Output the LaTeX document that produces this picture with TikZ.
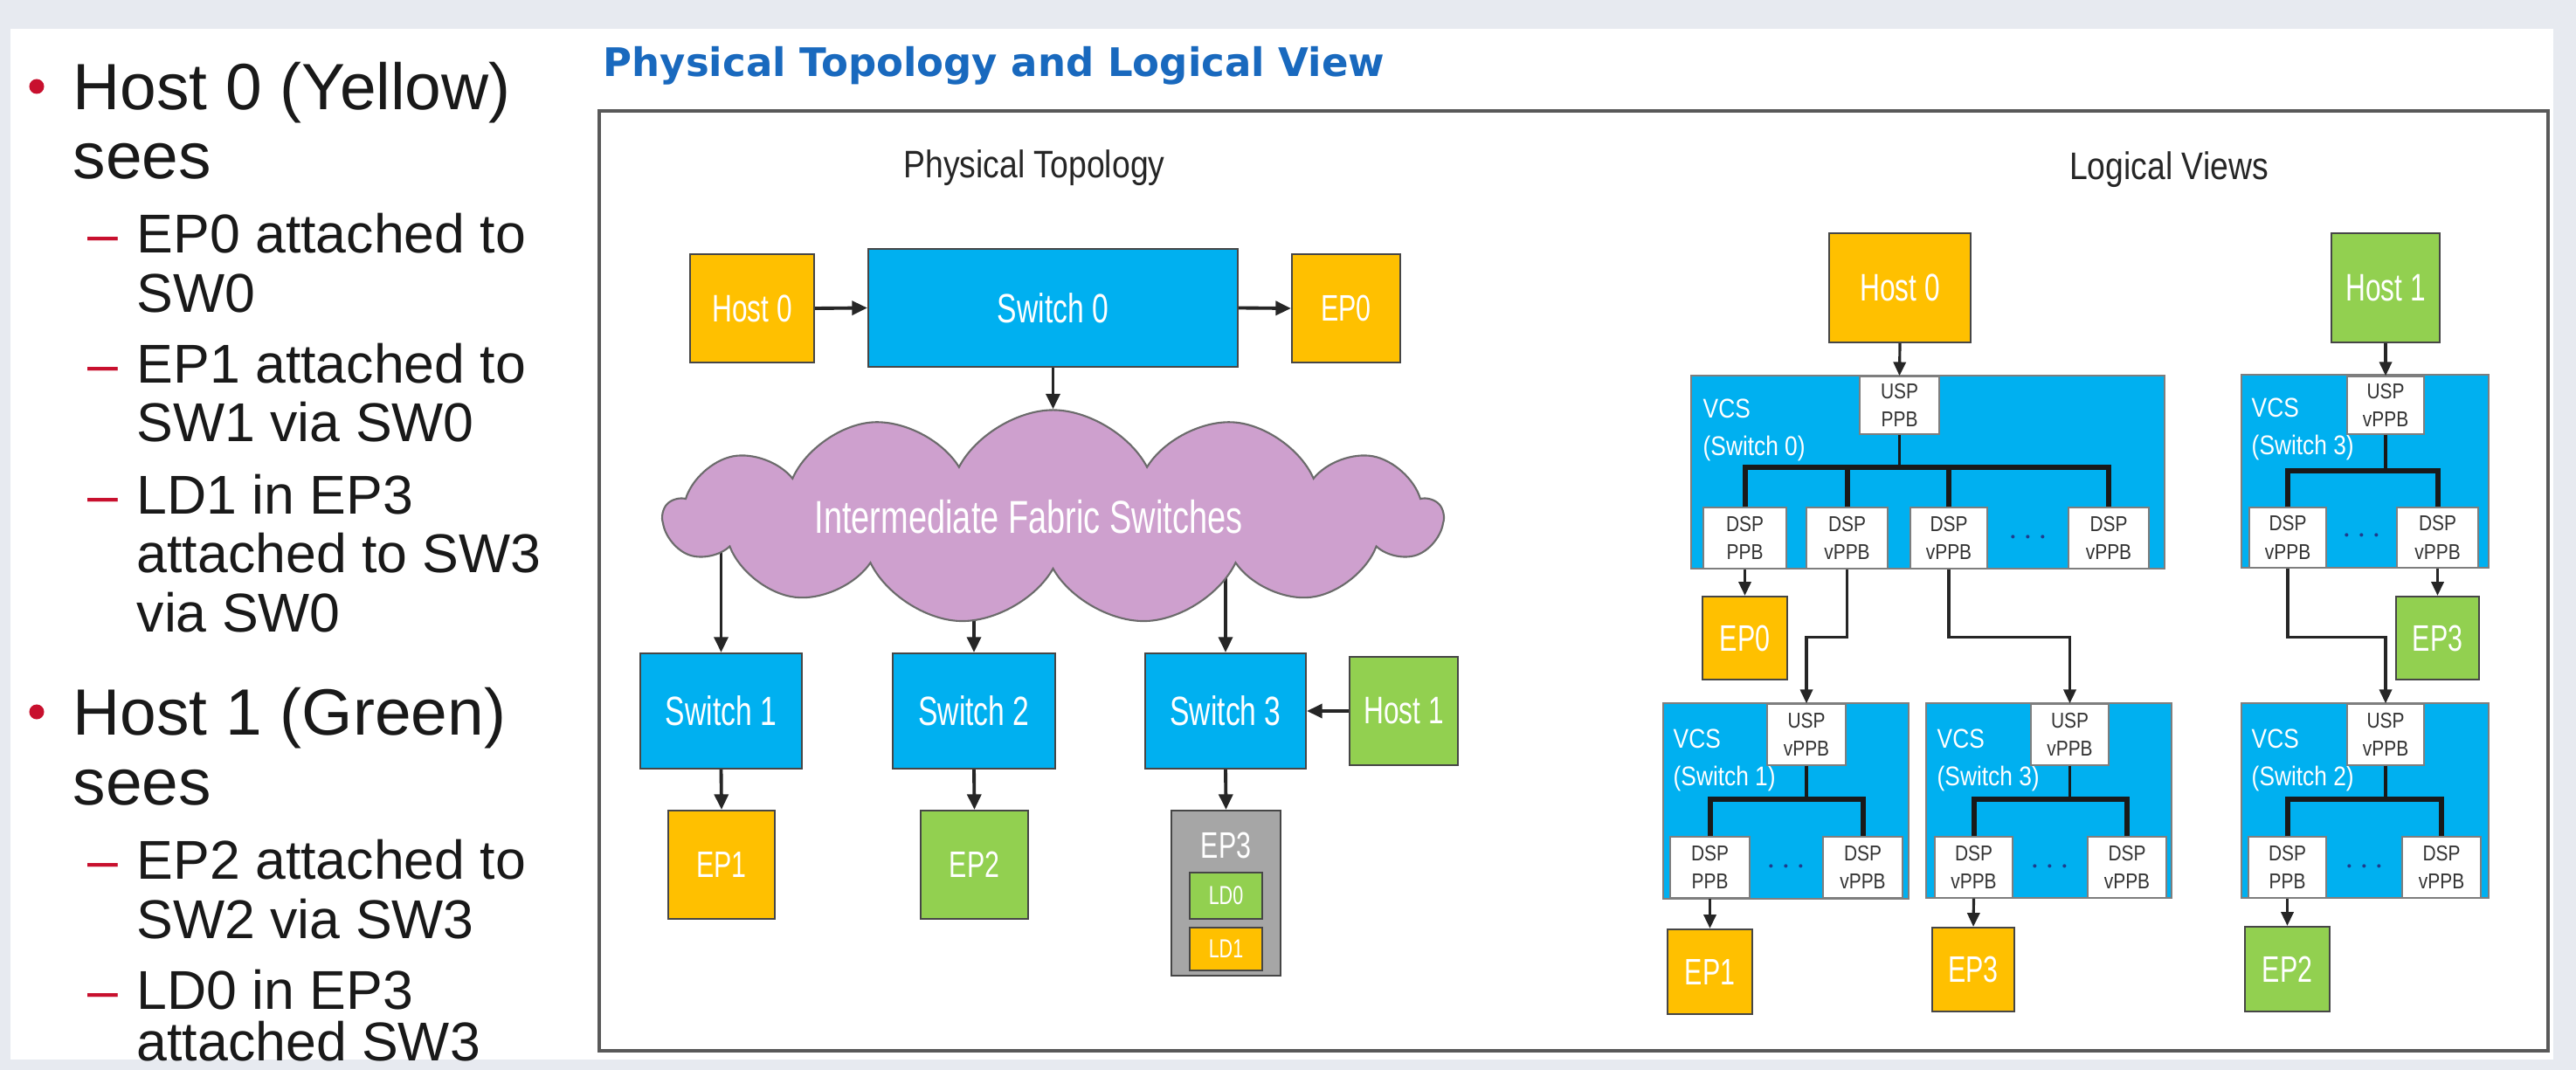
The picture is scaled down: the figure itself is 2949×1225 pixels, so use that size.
\documentclass[tikz,border=0pt]{standalone}
\usepackage{fontspec}
\setmainfont{Liberation Sans}
\newfontfamily\cond[FakeStretch=0.85]{Liberation Sans}
\newfontfamily\condb[FakeStretch=0.72]{Liberation Sans}
\newfontfamily\ttlfont{DejaVu Sans}
\usetikzlibrary{arrows.meta,shapes.symbols,fit}
\definecolor{cyel}{RGB}{255,192,0}
\definecolor{cblu}{RGB}{0,176,240}
\definecolor{cgrn}{RGB}{146,208,80}
\definecolor{cgry}{RGB}{166,166,166}
\definecolor{ccld}{RGB}{206,160,206}
\definecolor{cbrd}{RGB}{70,70,70}
\definecolor{cttl}{RGB}{25,105,190}
\definecolor{cred}{RGB}{200,16,46}
\definecolor{cbg}{RGB}{231,234,240}
\definecolor{cdots}{RGB}{30,60,140}
\tikzset{
 box/.style={draw=cbrd, line width=0.6pt, inner sep=0pt},
 ybox/.style={box, fill=cyel},
 gbox/.style={box, fill=cgrn},
 bbox/.style={box, fill=cblu},
 grbox/.style={box, fill=cgry},
 bt/.style={text=white, inner sep=0pt, font=\condb\fontsize{12.5}{14}\selectfont},
 bts/.style={bt, font=\condb\fontsize{13.3}{15}\selectfont},
 bte/.style={bt, font=\condb\fontsize{12}{14}\selectfont},
 btl/.style={bt, font=\condb\fontsize{8.5}{10}\selectfont},
 ldbox/.style={line width=0.5pt},
 vcsbox/.style={draw=cbrd!70, line width=0.5pt, fill=cblu, inner sep=0pt},
 pbox/.style={draw=cbrd!70, line width=0.4pt, fill=white, inner sep=0pt},
 ptx/.style={text=black!80, inner sep=0pt, align=center, font=\cond\fontsize{7}{9.2}\selectfont},
 vcslbl/.style={anchor=west, align=left, text=white, inner sep=0pt, font=\cond\fontsize{8.8}{12.2}\selectfont},
 arr/.style={draw=black!85, line width=1.1pt, -{Triangle[length=5pt,width=4.5pt]}},
 larr/.style={draw=black!85, line width=0.9pt, -{Triangle[length=4.5pt,width=4pt]}},
 bus/.style={draw=black!90, line width=1.7pt, line join=miter},
 stemln/.style={draw=black!90, line width=0.9pt},
 hdr/.style={font=\cond\fontsize{12.5}{15}\selectfont, text=black!85, inner sep=0pt},
 mtxt/.style={anchor=base west, inner sep=0pt, font=\fontsize{21.3}{24}\selectfont, text=black!90},
 stxt/.style={anchor=base west, inner sep=0pt, font=\fontsize{17.8}{20}\selectfont, text=black!90},
 dsh/.style={stxt, text=cred},
 bul/.style={circle, fill=cred, inner sep=0pt, minimum size=0.17cm},
 dotsn/.style={text=cdots, inner sep=0pt, font=\fontsize{11}{11}\selectfont},
 outerframe/.style={draw=black!65, line width=0.9pt},
}
\begin{document}
\begin{tikzpicture}[x=0.01cm,y=-0.01cm]
\useasboundingbox (0,0) rectangle (2949,1225);
\clip (0,0) rectangle (2949,1225);
\fill[cbg] (0,0) rectangle (2949,1225);
\fill[white] (12,33) rectangle (2923,1213);

% ---------- left bullet text ----------
\node (bu1) [bul] at (42,99) {};
\node (t1) [mtxt] at (83,126) {Host 0 (Yellow)};
\node (t2) [mtxt] at (83,205) {sees};
\node (d1) [dsh] at (100,290) {–};
\node (t3) [stxt] at (156,290) {EP0 attached to};
\node (t4) [stxt] at (156,358) {SW0};
\node (d2) [dsh] at (100,439) {–};
\node (t5) [stxt] at (156,439) {EP1 attached to};
\node (t6) [stxt] at (156,506) {SW1 via SW0};
\node (d3) [dsh] at (100,589) {–};
\node (t7) [stxt] at (156,589) {LD1 in EP3};
\node (t8) [stxt] at (156,656) {attached to SW3};
\node (t9) [stxt] at (156,723) {via SW0};
\node (bu2) [bul] at (42,815) {};
\node (t10) [mtxt] at (83,841) {Host 1 (Green)};
\node (t11) [mtxt] at (83,921) {sees};
\node (d4) [dsh] at (100,1006) {–};
\node (t12) [stxt] at (156,1006) {EP2 attached to};
\node (t13) [stxt] at (156,1074) {SW2 via SW3};
\node (d5) [dsh] at (100,1155) {–};
\node (t14) [stxt] at (156,1155) {LD0 in EP3};
\node (t15) [stxt] at (156,1214) {attached SW3};

% ---------- title and frame ----------
\node (ttl) [anchor=west, inner sep=0pt, text=cttl, font=\ttlfont\bfseries\fontsize{12.8}{15}\selectfont] at (690,75) {Physical Topology and Logical View};
\draw[outerframe] (686,127) rectangle (2917,1203);
\node (hp) [hdr] at (1184,192) {Physical Topology};
\node (hl) [hdr] at (2483,194) {Logical Views};

% ---------- physical topology ----------
\node (h0p) [ybox, fit={(790,291) (932,415)}, label={[bt]center:Host 0}] {};
\node (sw0) [bbox, fit={(994,285) (1417,420)}, label={[bts]center:Switch 0}] {};
\node (ep0p) [ybox, fit={(1479,291) (1603,415)}, label={[bte]center:EP0}] {};
\node (sw1) [bbox, fit={(733,748) (918,880)}, label={[bts]center:Switch 1}] {};
\node (sw2) [bbox, fit={(1022,748) (1208,880)}, label={[bts]center:Switch 2}] {};
\node (sw3) [bbox, fit={(1311,748) (1495,880)}, label={[bts]center:Switch 3}] {};

% arrows leaving the cloud start inside it; the cloud is drawn over them
\coordinate (c1) at (825.5,620);
\coordinate (c2) at (1115,620);
\coordinate (c3) at (1403,620);
\draw[arr] (c1) -- (sw1.north);
\draw[arr] (c2) -- (sw2.north);
\draw[arr] (c3) -- (sw3.north);

\node (cld) [cloud, cloud puffs=13, cloud puff arc=125, aspect=3.6,
   minimum width=8.9cm, minimum height=2.45cm, fill=ccld, draw=cbrd!80,
   line width=0.6pt, inner sep=0pt,
   label={[bt, xshift=-0.28cm, font=\condb\fontsize{15}{17}\selectfont]center:Intermediate Fabric Switches}] at (1205.5,592) {};
\node (h1p) [gbox, fit={(1545,752) (1669,876)}, label={[bt]center:Host 1}] {};
\node (ep1p) [ybox, fit={(765,928) (887,1052)}, label={[bte]center:EP1}] {};
\node (ep2p) [gbox, fit={(1054,928) (1177,1052)}, label={[bte]center:EP2}] {};
\node (ep3p) [grbox, fit={(1341,928) (1466,1117)}] {};
\node (ep3t) [bte] at (1403.5,968) {EP3};
\node (ld0) [gbox, ldbox, fit={(1362,999) (1445,1052)}, label={[btl]center:LD0}] {};
\node (ld1) [ybox, ldbox, fit={(1362,1062) (1445,1111)}, label={[btl]center:LD1}] {};

\draw[arr] (h0p.east) -- (sw0.west);
\draw[arr] (sw0.east) -- (ep0p.west);
\draw[arr] (sw0.south) -- (cld.north);
\draw[arr] (h1p.west) -- (sw3.east);
\draw[arr] (sw1.south) -- (ep1p.north);
\draw[arr] (sw2.south) -- (ep2p.north);
\draw[arr] (sw3.south) -- (ep3p.north);

% ---------- logical views ----------
\node (h0l) [ybox, fit={(2094,267) (2256,392)}, label={[bt]center:Host 0}] {};
\node (h1l) [gbox, fit={(2669,267) (2793,392)}, label={[bt]center:Host 1}] {};

% VCS Switch 0 (Host 0)
\node (v0) [vcsbox, fit={(1936,430) (2478,651)}] {};
\node (v0t) [vcslbl] at (1949,492) {VCS\\(Switch 0)};
\node (u0) [pbox, fit={(2129,431) (2220,497)}, label={[ptx]center:{USP\\PPB}}] {};
\node (d0a) [pbox, fit={(1950,581) (2045,651)}, label={[ptx]center:{DSP\\PPB}}] {};
\node (d0b) [pbox, fit={(2068,581) (2161,651)}, label={[ptx]center:{DSP\\vPPB}}] {};
\node (d0c) [pbox, fit={(2187,581) (2275,651)}, label={[ptx]center:{DSP\\vPPB}}] {};
\node (d0d) [pbox, fit={(2368,581) (2460,651)}, label={[ptx]center:{DSP\\vPPB}}] {};
\node (dt0) [dotsn] at (2322,616) {$\cdots$};
\draw[stemln] (u0.south) -- ++(0,39);
\draw[bus] (d0a.north) -- ++(0,-45) -| (d0d.north);
\draw[bus] (d0b.north) -- ++(0,-45);
\draw[bus] (d0c.north) -- ++(0,-45);

% VCS Switch 3 (Host 1)
\node (v3a) [vcsbox, fit={(2566,429) (2849,650)}] {};
\node (v3at) [vcslbl] at (2577,491) {VCS\\(Switch 3)};
\node (u3a) [pbox, fit={(2687,431) (2775,497)}, label={[ptx]center:{USP\\vPPB}}] {};
\node (e3a1) [pbox, fit={(2575,581) (2663,650)}, label={[ptx]center:{DSP\\vPPB}}] {};
\node (e3a2) [pbox, fit={(2744,581) (2837,650)}, label={[ptx]center:{DSP\\vPPB}}] {};
\node (dt3a) [dotsn] at (2704,614) {$\cdots$};
\draw[stemln] (u3a.south) -- ++(0,43);
\draw[bus] (e3a1.north) -- ++(0,-41) -| (e3a2.north);

\node (ep0l) [ybox, fit={(1949,683) (2046,778)}, label={[bte]center:EP0}] {};
\node (ep3gl) [gbox, fit={(2743,683) (2838,778)}, label={[bte]center:EP3}] {};

% VCS Switch 1
\node (v1) [vcsbox, fit={(1904,805) (2185,1029)}] {};
\node (v1t) [vcslbl] at (1915,870) {VCS\\(Switch 1)};
\node (u1) [pbox, fit={(2023,806) (2113,876)}, label={[ptx]center:{USP\\vPPB}}] {};
\node (e1a) [pbox, fit={(1912,958) (2003,1028)}, label={[ptx]center:{DSP\\PPB}}] {};
\node (e1b) [pbox, fit={(2087,958) (2178,1028)}, label={[ptx]center:{DSP\\vPPB}}] {};
\node (dt1) [dotsn] at (2045,993) {$\cdots$};
\draw[stemln] (u1.south) -- ++(0,40);
\draw[bus] (e1a.north) -- ++(0,-42) -| (e1b.north);

% VCS Switch 3 (Host 0)
\node (v3b) [vcsbox, fit={(2205,805) (2486,1028)}] {};
\node (v3bt) [vcslbl] at (2217,870) {VCS\\(Switch 3)};
\node (u3b) [pbox, fit={(2325,806) (2414,876)}, label={[ptx]center:{USP\\vPPB}}] {};
\node (e3b1) [pbox, fit={(2215,958) (2304,1028)}, label={[ptx]center:{DSP\\vPPB}}] {};
\node (e3b2) [pbox, fit={(2390,958) (2480,1028)}, label={[ptx]center:{DSP\\vPPB}}] {};
\node (dt3b) [dotsn] at (2347,993) {$\cdots$};
\draw[stemln] (u3b.south) -- ++(0,40);
\draw[bus] (e3b1.north) -- ++(0,-42) -| (e3b2.north);

% VCS Switch 2
\node (v2) [vcsbox, fit={(2566,805) (2849,1028)}] {};
\node (v2t) [vcslbl] at (2577,870) {VCS\\(Switch 2)};
\node (u2) [pbox, fit={(2687,806) (2775,876)}, label={[ptx]center:{USP\\vPPB}}] {};
\node (e2a) [pbox, fit={(2574,958) (2663,1028)}, label={[ptx]center:{DSP\\PPB}}] {};
\node (e2b) [pbox, fit={(2750,958) (2840,1028)}, label={[ptx]center:{DSP\\vPPB}}] {};
\node (dt2) [dotsn] at (2707,993) {$\cdots$};
\draw[stemln] (u2.south) -- ++(0,40);
\draw[bus] (e2a.north) -- ++(0,-42) -| (e2b.north);

\node (ep1l) [ybox, fit={(1909,1064) (2006,1161)}, label={[bte]center:EP1}] {};
\node (ep3yl) [ybox, fit={(2212,1062) (2306,1158)}, label={[bte]center:EP3}] {};
\node (ep2l) [gbox, fit={(2570,1061) (2667,1158)}, label={[bte]center:EP2}] {};

% logical connectors
\draw[larr] (h0l.south) -- (u0.north);
\draw[larr] (h1l.south) -- (u3a.north);
\draw[larr] (d0a.south) -- (ep0l.north);
\draw[larr] (e3a2.south) -- (ep3gl.north);
\draw[larr] (d0b.south) -- ++(0,78) -| (u1.north);
\draw[larr] (d0c.south) -- ++(0,78) -| (u3b.north);
\draw[larr] (e3a1.south) -- ++(0,79) -| (u2.north);
\draw[larr] (e1a.south) -- (ep1l.north);
\draw[larr] (e3b1.south) -- (ep3yl.north);
\draw[larr] (e2a.south) -- (ep2l.north);
\end{tikzpicture}
\end{document}
